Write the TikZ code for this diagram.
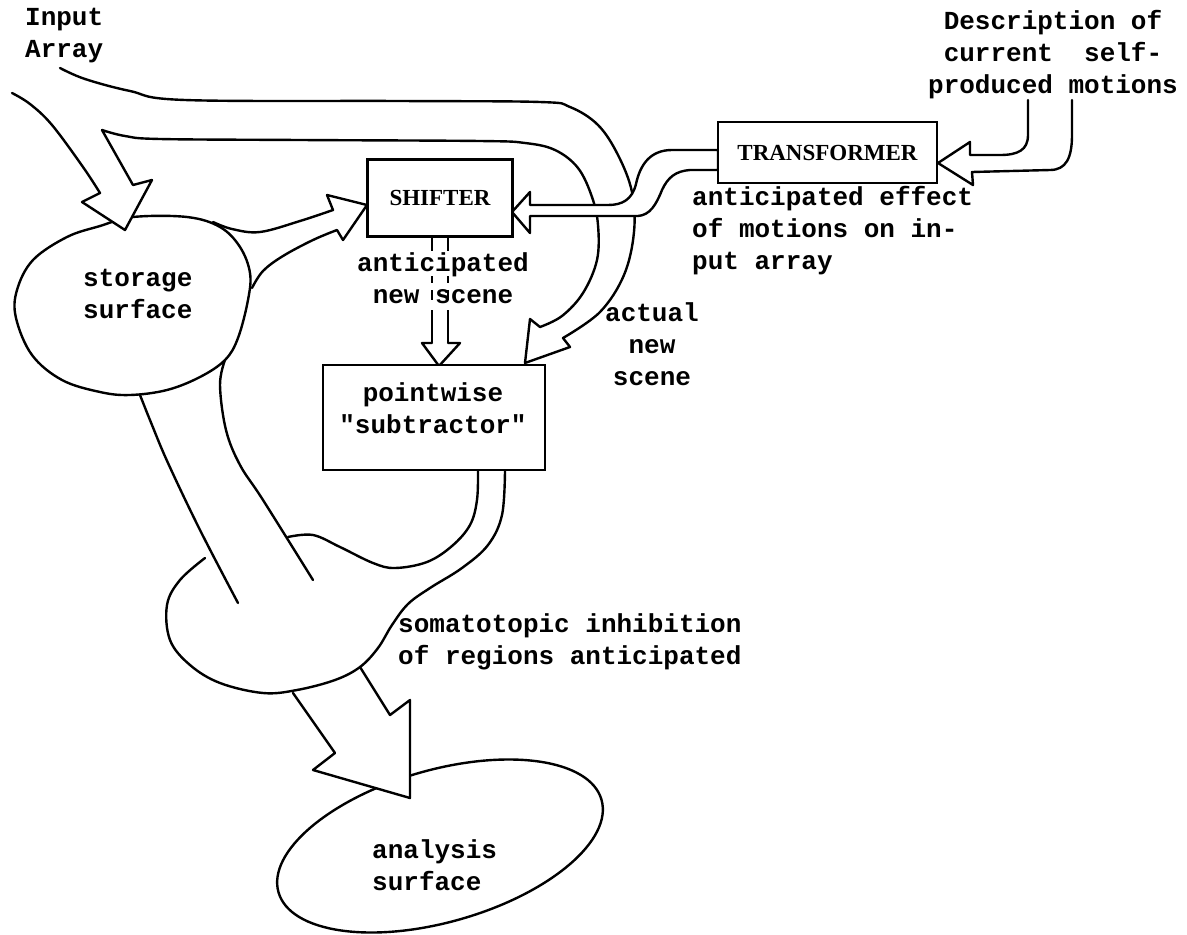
\documentclass[tikz,border=0pt]{standalone}
\usepackage{fontspec}
\newfontfamily\typefont{Liberation Mono}
\newfontfamily\boxfont{Liberation Serif}
\usetikzlibrary{shapes.geometric,calc}

\begin{document}
\begin{tikzpicture}[x=1pt, y=-1pt,
    every node/.style={inner sep=0pt},
    typed/.style={font=\typefont\bfseries\fontsize{26}{32}\selectfont},
    block/.style={draw, line width=2.6pt, fill=white,
      font=\boxfont\bfseries\fontsize{23}{28}\selectfont},
    surf/.style={line width=2.4pt, line join=round},
    band/.style={line width=2.4pt, line join=round, line cap=round},
    hollow/.style={band, fill=white}]
  \useasboundingbox (0,0) rectangle (1187,935);

  % storage surface and the wide band going down from it
  \draw[surf] plot[smooth cycle, tension=0.6] coordinates {(133,217) (187,217) (220,227)
    (240,247) (250,273) (248,300) (238,338) (225,360) (200,377) (167,390) (130,395)
    (100,392) (62,380) (32,355) (16,318) (17,290) (33,260) (67,237) (100,226)};
  \draw[band] plot[smooth, tension=0.6] coordinates {(140,395) (152,425) (168,463) (200,530) (238,603)};
  \draw[band] plot[smooth, tension=0.6] coordinates {(225,360) (220,385) (226,430) (240,465) (263,500) (313,580)};

  % storage -> SHIFTER
  \draw[band] plot[smooth, tension=0.6] coordinates {(213,222) (232,229) (260,232) (300,221) (333,210)}
    -- (327,195) -- (367,205) -- (343,240) -- (337,230)
    -- plot[smooth, tension=0.6] coordinates {(337,230) (313,240) (283,256) (263,271) (252,288)};

  % analysis surface
  \node[draw, ellipse, surf, minimum width=336pt, minimum height=152pt, rotate=16] (anal) at (440,846) {};
  \draw[hollow] (293,693) -- (335,753) -- (313,770) -- (410,798) -- (410,700) -- (390,715) -- (360,667);

  % subtractor -> inhibition region
  \draw[band] plot[smooth, tension=0.6] coordinates {(288,537) (313,535) (340,547) (373,563)
    (395,568) (427,562) (452,546) (470,525) (477,500) (478,470)};
  \draw[band] plot[smooth, tension=0.6] coordinates {(505,470) (502,515) (488,545) (462,568)
    (430,588) (408,604) (392,625) (378,648) (360,667) (335,680) (297,690) (263,693)
    (220,683) (190,665) (170,640) (167,605) (180,580) (205,558)};

  % input array: to storage and on to the subtractor
  \draw[hollow] plot[smooth, tension=0.6] coordinates {(12,93) (30,104) (52,125) (83,167) (100,193)}
    -- (82,202) -- (125,230) -- (152,180) -- (133,185) -- (102,130)
    -- plot[smooth, tension=0.6] coordinates {(102,130) (125,136) (160,139) (300,140) (480,141)
      (525,143) (555,150) (578,168) (592,197) (598,225) (597,260) (583,293) (562,316) (540,327)}
    -- (530,319) -- (525,363) -- (570,347) -- (563,338)
    -- plot[smooth, tension=0.6] coordinates {(563,338) (600,312) (624,275) (634,232) (632,192)
      (618,155) (598,125) (570,107) (540,102) (400,101) (185,100) (130,91) (85,79) (60,68)};

  % TRANSFORMER -> SHIFTER
  \draw[hollow] (718,150) -- (672,150) .. controls (650,150) and (640,165) .. (636,184)
    .. controls (632,200) and (622,205) .. (608,205) -- (530,205) -- (530,192) -- (512,212)
    -- (530,233) -- (530,216) -- (638,216) .. controls (650,215) and (656,205) .. (662,190)
    .. controls (668,177) and (676,171) .. (690,170) -- (718,170) -- cycle;

  % motions -> TRANSFORMER
  \draw[band] (1028,100) -- (1028,135) .. controls (1028,150) and (1018,155) .. (1000,155)
    -- (970,155) -- (970,142) -- (938,163) -- (973,185) -- (972,172) -- (1050,170)
    .. controls (1066,170) and (1072,158) .. (1072,135) -- (1072,100);

  % SHIFTER -> subtractor
  \draw[band, line cap=butt, dash pattern=on 14pt off 25pt on 7pt off 7pt on 10pt off 10pt on 60pt]
    (432,237) -- (432,343);
  \draw[band, line cap=butt, dash pattern=on 14pt off 25pt on 7pt off 7pt on 10pt off 10pt on 60pt]
    (448,237) -- (448,343);
  \draw[band] (432,343) -- (422,343) -- (439,366) -- (460,343) -- (448,343);

  \node[block, minimum width=145pt, minimum height=77pt] (shift) at (440,198) {SHIFTER};
  \node[block, minimum width=219pt, minimum height=61pt] (trans) at (827.5,152.5) {TRANSFORMER};
  \node[block, minimum width=222pt, minimum height=105pt] (subtr) at (434,417.5) {};

  % base of a multi-line node = baseline of its last line
  \node[typed, align=center, anchor=base] (subtrlbl) at (433,433) {pointwise\\"subtractor"};
  \node[typed, align=left, anchor=base west] (input) at (25,57) {Input\\Array};
  \node[typed, align=center, anchor=base] (descr) at (1053,93) {Description of\\current~~self-\\produced motions};
  \node[typed, align=left, anchor=base west] (effect) at (692,269) {anticipated effect\\of motions on in-\\put array};
  \node[typed, align=center, anchor=base] (antic) at (443,303) {anticipated\\new scene};
  \node[typed, align=center, anchor=base] (actual) at (652,385) {actual\\new\\scene};
  \node[typed, align=left, anchor=base west] (storelbl) at (83,318) {storage\\surface};
  \node[typed, align=left, anchor=base west] (somato) at (398,664) {somatotopic inhibition\\of regions anticipated};
  \node[typed, align=left, anchor=base west] (anallbl) at (372,890) {analysis\\surface};
\end{tikzpicture}
\end{document}
